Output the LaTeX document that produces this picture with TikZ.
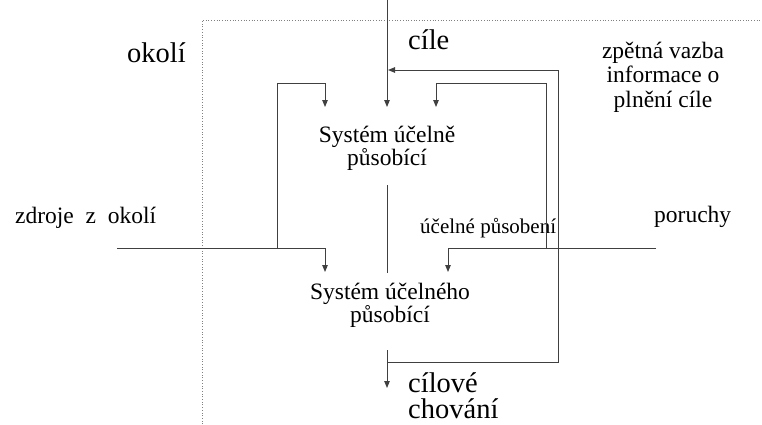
\documentclass[tikz,border=0pt]{standalone}
\usepackage{fontspec}
\setmainfont{Liberation Serif}
\usetikzlibrary{arrows.meta}

\begin{document}
\begin{tikzpicture}[
    x=1pt, y=-1pt, >={Triangle[length=7pt,width=5.5pt]},
    lbl/.style={inner sep=0pt, font=\fontsize{23.5}{23}\selectfont},
    big/.style={inner sep=0pt, font=\fontsize{28.5}{26}\selectfont},
    small/.style={inner sep=0pt, font=\fontsize{21}{22}\selectfont},
    ln/.style={black!75, line width=1pt},
    arr/.style={ln, ->},
    frame/.style={gray, dotted, line width=0.7pt}
]
\useasboundingbox (0,0) rectangle (762,424);

% surroundings boundary
\draw[frame] (202,424) -- (202,20) -- (760,20);

% texts (base of a multi-line node = its last line)
\node[big, anchor=base west] (okoli)   at (127,62)  {okolí};
\node[big, anchor=base west] (cile)    at (408,49)  {cíle};
\node[lbl, anchor=base, align=center, font=\fontsize{23.5}{24.5}\selectfont] (zpetna) at (663,107)
    {zpětná vazba\\informace o\\plnění cíle};
\node[lbl, anchor=base, align=center] (sys1) at (387,165) {Systém účelně\\působící};
\node[lbl, anchor=base west] (zdroje)  at (15,223)  {zdroje\ \ z\ \ okolí};
\node[small, anchor=base west] (pusobeni) at (420,233) {účelné působení};
\node[lbl, anchor=base west] (poruchy) at (654,222) {poruchy};
\node[lbl, anchor=base, align=center] (sys2) at (390,322) {Systém účelného\\působící};
\node[big, anchor=base west, align=left] (chovani) at (408,418) {cílové\\chování};

% connector points
\coordinate (goaltop) at (387,0);
\coordinate (goalin)  at (387,107);
\coordinate (fbin)    at (388,70);
\coordinate (fbcorner) at (558,70);
\coordinate (fbbottom) at (558,362);
\coordinate (outtap)  at (387,362);
\coordinate (outtop)  at (387,350);
\coordinate (outend)  at (387,388);
\coordinate (midtop)  at (387,185);
\coordinate (midbot)  at (387,273);
\coordinate (resstart) at (117,248);
\coordinate (resfork) at (277,248);
\coordinate (resturn) at (325,248);
\coordinate (resin2)  at (325,272);
\coordinate (resup)   at (277,83);
\coordinate (resover) at (325,83);
\coordinate (resin1)  at (325,107);
\coordinate (disstart) at (656,248);
\coordinate (disfork) at (546,248);
\coordinate (disturn) at (448,248);
\coordinate (disin2)  at (448,272);
\coordinate (disup)   at (546,83);
\coordinate (disover) at (436,83);
\coordinate (disin1)  at (436,107);

% goals and feedback
\draw[arr] (goaltop) -- (goalin);
\draw[arr] (outtap) -- (fbbottom) -- (fbcorner) -- (fbin);
\draw[arr] (outtop) -- (outend);
\draw[ln] (midtop) -- (midbot);

% resources from the surroundings
\draw[arr] (resstart) -- (resturn) -- (resin2);
\draw[arr] (resfork) -- (resup) -- (resover) -- (resin1);

% disturbances
\draw[arr] (disstart) -- (disturn) -- (disin2);
\draw[arr] (disfork) -- (disup) -- (disover) -- (disin1);
\end{tikzpicture}
\end{document}
